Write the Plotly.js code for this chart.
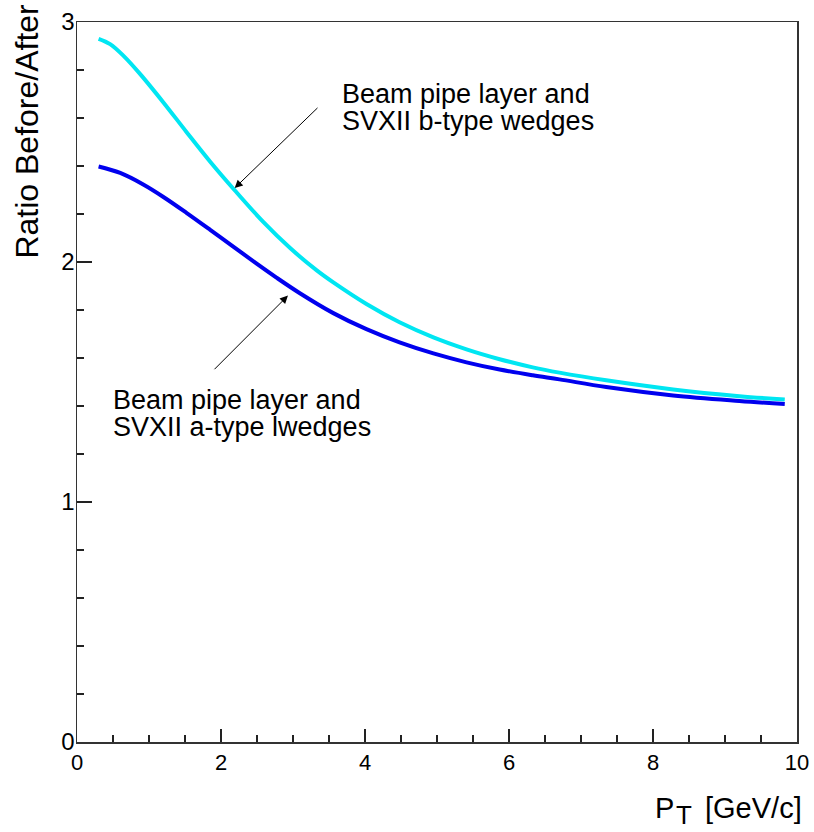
<!DOCTYPE html>
<html>
<head>
<meta charset="utf-8">
<script src="https://cdn.plot.ly/plotly-3.0.1.min.js"></script>
<style>html,body{margin:0;padding:0;background:#fff;}#chart{width:814px;height:832px;}</style>
</head>
<body>
<div id="chart"></div>
<script>
// b-type wedges (cyan)
var ptB = [0.3, 0.46, 0.65, 0.875, 1.2, 1.52, 1.85, 2.19, 2.59, 2.96, 3.33, 3.56, 4.02, 4.48, 4.95, 5.41, 5.87, 6.33, 6.70, 7.35, 8.28, 9.2, 9.83];
var ratioB = [2.93, 2.908, 2.858, 2.784, 2.665, 2.542, 2.418, 2.299, 2.166, 2.058, 1.965, 1.915, 1.825, 1.749, 1.686, 1.636, 1.595, 1.561, 1.539, 1.507, 1.469, 1.441, 1.427];
// a-type wedges (blue)
var ptA = [0.3, 0.6, 0.92, 1.2, 1.52, 1.85, 2.17, 2.50, 2.77, 3.09, 3.56, 4.02, 4.48, 4.95, 5.41, 5.87, 6.33, 6.70, 7.35, 8.28, 9.2, 9.83];
var ratioA = [2.398, 2.371, 2.323, 2.271, 2.205, 2.134, 2.064, 1.992, 1.935, 1.871, 1.787, 1.720, 1.665, 1.619, 1.582, 1.552, 1.528, 1.511, 1.479, 1.444, 1.421, 1.408];

var xTicks = [0, 2, 4, 6, 8, 10];
var yTicks = [0, 1, 2, 3];

var labelB = ["Beam pipe layer and", "SVXII b-type wedges"];
var labelA = ["Beam pipe layer and", "SVXII a-type lwedges"];

var W = 814, H = 832, ML = 77, MR = 17, MT = 22, MB = 90;
var PW = W - ML - MR, PH = H - MT - MB;
function px(x) { return (x - ML) / PW; }
function py(y) { return (H - MB - y) / PH; }

var font = "Liberation Sans, Arial, Helvetica, sans-serif";

var traces = [
  {x: ptB, y: ratioB, mode: 'lines', line: {color: '#00e6f2', width: 4, shape: 'spline'}, hoverinfo: 'skip'},
  {x: ptA, y: ratioA, mode: 'lines', line: {color: '#0000ee', width: 4, shape: 'spline'}, hoverinfo: 'skip'}
];

function textAnn(t, xp, yp, size, xanchor) {
  return {text: t, xref: 'paper', yref: 'paper', x: px(xp), y: py(yp), xanchor: xanchor || 'left', yanchor: 'middle',
          showarrow: false, font: {family: font, size: size, color: '#000'}};
}

var annotations = [
  textAnn(labelB[0], 340, 94.5, 27),
  textAnn(labelB[1], 340, 121, 27),
  textAnn(labelA[0], 111, 399.5, 27),
  textAnn(labelA[1], 111, 426.7, 27),
  // arrows
  {x: 2.19, y: 2.308, ax: 3.361, ay: 2.648, xref: 'x', yref: 'y', axref: 'x', ayref: 'y', text: '', showarrow: true,
   arrowhead: 2, arrowsize: 1.6, arrowwidth: 1, arrowcolor: '#000', standoff: 0},
  {x: 2.93, y: 1.86, ax: 1.889, ay: 1.547, xref: 'x', yref: 'y', axref: 'x', ayref: 'y', text: '', showarrow: true,
   arrowhead: 2, arrowsize: 1.6, arrowwidth: 1, arrowcolor: '#000', standoff: 0},
  // y title
  {text: 'Ratio Before/After', xref: 'paper', yref: 'paper', x: px(26.6), y: py(131), xanchor: 'center', yanchor: 'middle',
   textangle: -90, showarrow: false, font: {family: font, size: 32, color: '#000'}},
  // x title
  textAnn('P', 653, 808, 29),
  textAnn('T', 674, 815, 26),
  textAnn('[GeV/c]', 804, 808, 29, 'right')
];

var layout = {
  width: W, height: H,
  margin: {l: ML, r: MR, t: MT, b: MB, pad: 0},
  paper_bgcolor: '#fff', plot_bgcolor: '#fff',
  showlegend: false,
  xaxis: {
    range: [0, 10], tickvals: xTicks, ticktext: xTicks.map(String),
    ticks: 'inside', ticklen: 13, tickwidth: 1.5, tickcolor: '#222',
    minor: {dtick: 0.5, ticks: 'inside', ticklen: 7, tickwidth: 1.5, tickcolor: '#222'},
    showline: true, linecolor: '#333', linewidth: 1.5, mirror: true,
    showgrid: false, zeroline: false,
    tickfont: {family: font, size: 22, color: '#000'},
    ticklabelstandoff: 0
  },
  yaxis: {
    range: [0, 3], tickvals: yTicks, ticktext: yTicks.map(String),
    ticks: 'inside', ticklen: 15, tickwidth: 1.5, tickcolor: '#222',
    minor: {dtick: 0.2, ticks: 'inside', ticklen: 7, tickwidth: 1.5, tickcolor: '#222'},
    showline: true, linecolor: '#333', linewidth: 1.5, mirror: true,
    showgrid: false, zeroline: false,
    tickfont: {family: font, size: 24, color: '#000'},
    ticklabelstandoff: -4
  },
  annotations: annotations
};

Plotly.newPlot('chart', traces, layout, {staticPlot: true, displayModeBar: false});
</script>
</body>
</html>
